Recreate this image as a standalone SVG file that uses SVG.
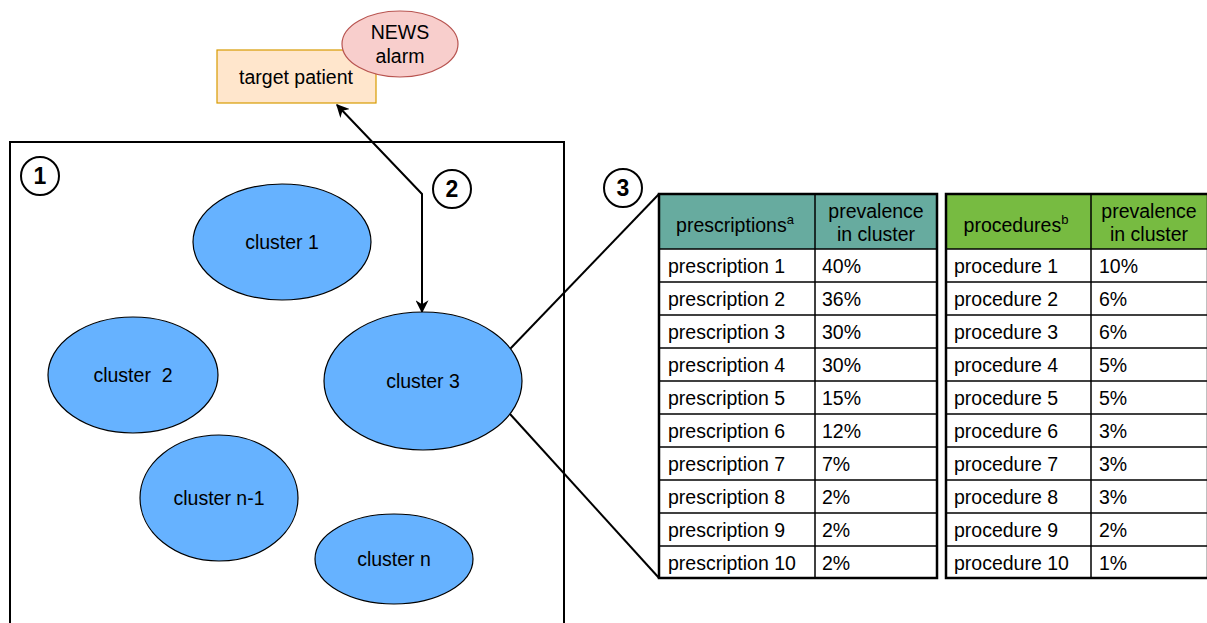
<svg xmlns="http://www.w3.org/2000/svg" width="1207" height="623" viewBox="0 0 1207 623">
  <defs>
    <style>
      text { font-family: "Liberation Sans", Arial, sans-serif; font-size: 19.5px; fill: #000; }
      .mid { text-anchor: middle; }
      .num { font-size: 23px; font-weight: bold; text-anchor: middle; }
      .cluster { fill: #66b2ff; stroke: #000; stroke-width: 1.2; }
      .badge { fill: #fff; stroke: #000; stroke-width: 2; }
      .wire { fill: none; stroke: #000; stroke-width: 2; }
      .grid { stroke: #000; stroke-width: 1.5; }
      .frame { fill: none; stroke: #000; stroke-width: 2.5; }
    </style>
    <marker id="arrow" viewBox="0 0 10 10" refX="9" refY="5" markerWidth="13" markerHeight="13" markerUnits="userSpaceOnUse" orient="auto-start-reverse">
      <path d="M0,0 L10,5 L0,10 L3,5 Z" fill="#000"/>
    </marker>
  </defs>

  <!-- cluster space frame -->
  <rect x="10" y="142" width="554" height="500" fill="none" stroke="#000" stroke-width="2"/>

  <!-- connectors -->
  <g id="connectors">
    <polyline class="wire" points="337,105 422,194 422,312" marker-start="url(#arrow)" marker-end="url(#arrow)"/>
    <line class="wire" x1="510" y1="349" x2="659" y2="194"/>
    <line class="wire" x1="510" y1="414" x2="659" y2="578"/>
  </g>

  <g id="target-patient">
    <rect x="217" y="50" width="159" height="53" fill="#ffe6cc" stroke="#d79b00" stroke-width="1.2"/>
    <text class="mid" x="296" y="84">target patient</text>
  </g>

  <g id="news-alarm">
    <ellipse cx="400" cy="44" rx="58" ry="33" fill="#f8cecc" stroke="#b85450" stroke-width="1.2"/>
    <text class="mid" x="400" y="39">NEWS</text>
    <text class="mid" x="400" y="63">alarm</text>
  </g>

  <g id="step-1">
    <circle class="badge" cx="40" cy="176" r="19"/>
    <text class="num" x="40" y="184">1</text>
  </g>
  <g id="step-2">
    <circle class="badge" cx="452" cy="189" r="19"/>
    <text class="num" x="452" y="197">2</text>
  </g>
  <g id="step-3">
    <circle class="badge" cx="623" cy="188" r="19"/>
    <text class="num" x="623" y="196">3</text>
  </g>

  <g id="cluster-1">
    <ellipse class="cluster" cx="282" cy="242" rx="89" ry="58"/>
    <text class="mid" x="282" y="249">cluster 1</text>
  </g>
  <g id="cluster-2">
    <ellipse class="cluster" cx="133" cy="375" rx="85" ry="58"/>
    <text class="mid" x="133" y="382" xml:space="preserve">cluster  2</text>
  </g>
  <g id="cluster-3">
    <ellipse class="cluster" cx="423" cy="381" rx="99" ry="69"/>
    <text class="mid" x="423" y="388">cluster 3</text>
  </g>
  <g id="cluster-n-1">
    <ellipse class="cluster" cx="219" cy="498" rx="79" ry="63"/>
    <text class="mid" x="219" y="505">cluster n-1</text>
  </g>
  <g id="cluster-n">
    <ellipse class="cluster" cx="394" cy="559" rx="79" ry="45"/>
    <text class="mid" x="394" y="566">cluster n</text>
  </g>

  <!-- prescriptions table -->
  <g id="prescriptions-table">
    <rect x="659" y="194" width="278" height="55" fill="#67ab9f"/>
    <rect x="659" y="249" width="278" height="329" fill="#fff"/>
    <g class="grid">
      <line x1="815" y1="194" x2="815" y2="578"/>
      <line x1="659" y1="249" x2="937" y2="249"/>
      <line x1="659" y1="282" x2="937" y2="282"/>
      <line x1="659" y1="315" x2="937" y2="315"/>
      <line x1="659" y1="348" x2="937" y2="348"/>
      <line x1="659" y1="381" x2="937" y2="381"/>
      <line x1="659" y1="414" x2="937" y2="414"/>
      <line x1="659" y1="447" x2="937" y2="447"/>
      <line x1="659" y1="480" x2="937" y2="480"/>
      <line x1="659" y1="513" x2="937" y2="513"/>
      <line x1="659" y1="546" x2="937" y2="546"/>
    </g>
    <rect class="frame" x="659" y="194" width="278" height="384"/>
    <text class="mid" x="735" y="232">prescriptions<tspan font-size="13" dy="-8">a</tspan></text>
    <text class="mid" x="876" y="218">prevalence</text>
    <text class="mid" x="876" y="241">in cluster</text>
    <text x="668" y="273">prescription 1</text><text x="822" y="273">40%</text>
    <text x="668" y="306">prescription 2</text><text x="822" y="306">36%</text>
    <text x="668" y="339">prescription 3</text><text x="822" y="339">30%</text>
    <text x="668" y="372">prescription 4</text><text x="822" y="372">30%</text>
    <text x="668" y="405">prescription 5</text><text x="822" y="405">15%</text>
    <text x="668" y="438">prescription 6</text><text x="822" y="438">12%</text>
    <text x="668" y="471">prescription 7</text><text x="822" y="471">7%</text>
    <text x="668" y="504">prescription 8</text><text x="822" y="504">2%</text>
    <text x="668" y="537">prescription 9</text><text x="822" y="537">2%</text>
    <text x="668" y="570">prescription 10</text><text x="822" y="570">2%</text>
  </g>

  <!-- procedures table -->
  <g id="procedures-table">
    <rect x="946" y="194" width="262" height="55" fill="#77bb41"/>
    <rect x="946" y="249" width="262" height="329" fill="#fff"/>
    <g class="grid">
      <line x1="1091" y1="194" x2="1091" y2="578"/>
      <line x1="946" y1="249" x2="1208" y2="249"/>
      <line x1="946" y1="282" x2="1208" y2="282"/>
      <line x1="946" y1="315" x2="1208" y2="315"/>
      <line x1="946" y1="348" x2="1208" y2="348"/>
      <line x1="946" y1="381" x2="1208" y2="381"/>
      <line x1="946" y1="414" x2="1208" y2="414"/>
      <line x1="946" y1="447" x2="1208" y2="447"/>
      <line x1="946" y1="480" x2="1208" y2="480"/>
      <line x1="946" y1="513" x2="1208" y2="513"/>
      <line x1="946" y1="546" x2="1208" y2="546"/>
    </g>
    <rect class="frame" x="946" y="194" width="262" height="384"/>
    <text class="mid" x="1016" y="232">procedures<tspan font-size="13" dy="-8">b</tspan></text>
    <text class="mid" x="1149" y="218">prevalence</text>
    <text class="mid" x="1149" y="241">in cluster</text>
    <text x="954" y="273">procedure 1</text><text x="1099" y="273">10%</text>
    <text x="954" y="306">procedure 2</text><text x="1099" y="306">6%</text>
    <text x="954" y="339">procedure 3</text><text x="1099" y="339">6%</text>
    <text x="954" y="372">procedure 4</text><text x="1099" y="372">5%</text>
    <text x="954" y="405">procedure 5</text><text x="1099" y="405">5%</text>
    <text x="954" y="438">procedure 6</text><text x="1099" y="438">3%</text>
    <text x="954" y="471">procedure 7</text><text x="1099" y="471">3%</text>
    <text x="954" y="504">procedure 8</text><text x="1099" y="504">3%</text>
    <text x="954" y="537">procedure 9</text><text x="1099" y="537">2%</text>
    <text x="954" y="570">procedure 10</text><text x="1099" y="570">1%</text>
  </g>
</svg>
